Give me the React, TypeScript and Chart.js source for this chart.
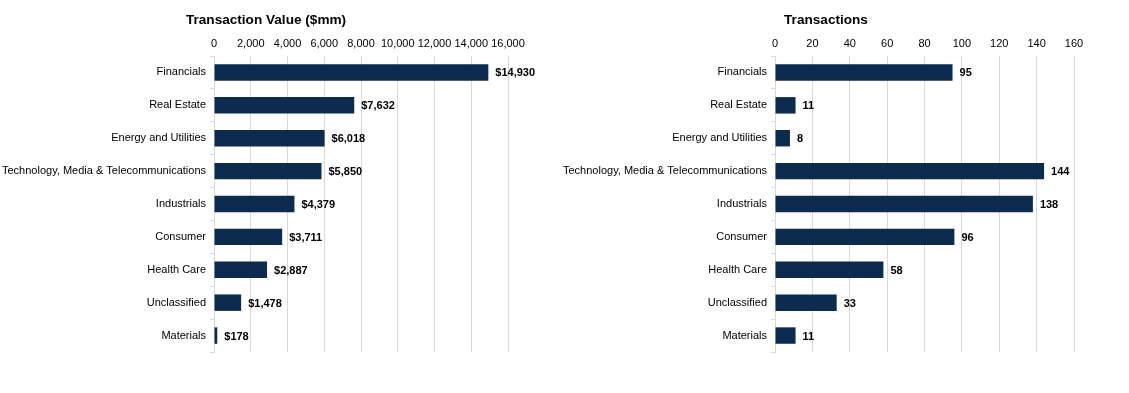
import React, { useEffect, useRef } from "react";
import { Chart, registerables } from "chart.js";

Chart.register(...registerables);

const categories = [
  "Financials",
  "Real Estate",
  "Energy and Utilities",
  "Technology, Media & Telecommunications",
  "Industrials",
  "Consumer",
  "Health Care",
  "Unclassified",
  "Materials",
];
const transactionValues = [14930, 7632, 6018, 5850, 4379, 3711, 2887, 1478, 178];
const transactionCounts = [95, 11, 8, 144, 138, 96, 58, 33, 11];

const valueAxisMax = 16000;
const valueAxisStep = 2000;
const countAxisMax = 160;
const countAxisStep = 20;

const FONT = "'Liberation Sans', Arial, sans-serif";
const BAR = "#0c2b4e";
const GRID = "#d9d9d9";
const TEXT = "#000000";

const titlePlugin = {
  id: "customTitle",
  afterDraw(chart: any, _args: any, opts: any) {
    if (!opts || !opts.text) return;
    const ctx = chart.ctx;
    ctx.save();
    ctx.font = `bold 13.6px ${FONT}`;
    ctx.fillStyle = TEXT;
    ctx.textAlign = "center";
    ctx.textBaseline = "middle";
    ctx.fillText(opts.text, opts.x, opts.y);
    ctx.restore();
  },
};

const valueLabelPlugin = {
  id: "valueLabels",
  afterDatasetsDraw(chart: any, _args: any, opts: any) {
    const ctx = chart.ctx;
    const meta = chart.getDatasetMeta(0);
    const data = chart.data.datasets[0].data as number[];
    ctx.save();
    ctx.font = `bold 11px ${FONT}`;
    ctx.fillStyle = TEXT;
    ctx.textAlign = "left";
    ctx.textBaseline = "middle";
    meta.data.forEach((bar: any, i: number) => {
      const label = (opts.prefix || "") + data[i].toLocaleString("en-US");
      ctx.fillText(label, bar.x + 7, bar.y + 1);
    });
    ctx.restore();
  },
};

function makeConfig(
  values: number[],
  max: number,
  step: number,
  title: string,
  prefix: string,
  leftWidth: number,
  rightPad: number
): any {
  return {
    type: "bar",
    data: {
      labels: categories,
      datasets: [
        {
          data: values,
          backgroundColor: BAR,
          borderWidth: 0,
          categoryPercentage: 1,
          barPercentage: 0.5,
        },
      ],
    },
    options: {
      indexAxis: "y",
      responsive: false,
      animation: false,
      layout: { padding: { top: 0, left: 0, right: rightPad, bottom: 41 } },
      plugins: {
        legend: { display: false },
        tooltip: { enabled: false },
        title: { display: false },
        customTitle: { text: title, x: 266, y: 20 },
        valueLabels: { prefix },
      },
      scales: {
        x: {
          position: "top",
          min: 0,
          max,
          ticks: {
            stepSize: step,
            color: TEXT,
            padding: 5,
            font: { family: FONT, size: 11 },
            maxRotation: 0,
            autoSkip: false,
            callback: (v: any) => Number(v).toLocaleString("en-US"),
          },
          grid: { color: GRID, drawTicks: false, lineWidth: 1 },
          border: { display: false },
          afterFit: (scale: any) => {
            scale.height = 56;
          },
        },
        y: {
          position: "left",
          ticks: {
            color: TEXT,
            padding: 4,
            autoSkip: false,
            font: { family: FONT, size: 11 },
          },
          grid: {
            offset: true,
            drawOnChartArea: false,
            drawTicks: true,
            tickLength: 4,
            color: GRID,
          },
          border: { display: true, color: GRID },
          afterFit: (scale: any) => {
            scale.width = leftWidth;
          },
        },
      },
    },
    plugins: [titlePlugin, valueLabelPlugin],
  };
}

function BarPanel(props: {
  values: number[];
  max: number;
  step: number;
  title: string;
  prefix: string;
  left: number;
  width: number;
  leftWidth: number;
  rightPad: number;
}) {
  const ref = useRef<HTMLCanvasElement | null>(null);
  useEffect(() => {
    if (!ref.current) return;
    const chart = new Chart(
      ref.current,
      makeConfig(
        props.values,
        props.max,
        props.step,
        props.title,
        props.prefix,
        props.leftWidth,
        props.rightPad
      )
    );
    return () => chart.destroy();
  }, []);
  return (
    <canvas
      ref={ref}
      width={props.width}
      height={393}
      style={{ position: "absolute", left: props.left, top: 0, width: props.width, height: 393 }}
    />
  );
}

export default function App() {
  return (
    <div
      style={{
        position: "fixed",
        left: 0,
        top: 0,
        width: 1129,
        height: 393,
        background: "#ffffff",
        overflow: "hidden",
      }}
    >
      <BarPanel
        values={transactionValues}
        max={valueAxisMax}
        step={valueAxisStep}
        title="Transaction Value ($mm)"
        prefix="$"
        left={0}
        width={560}
        leftWidth={214}
        rightPad={52}
      />
      <BarPanel
        values={transactionCounts}
        max={countAxisMax}
        step={countAxisStep}
        title="Transactions"
        prefix=""
        left={560}
        width={569}
        leftWidth={215}
        rightPad={55}
      />
    </div>
  );
}
